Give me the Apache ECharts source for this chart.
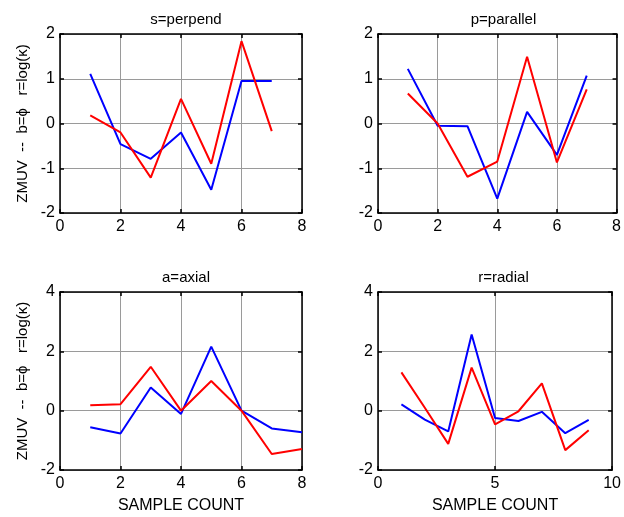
<!DOCTYPE html>
<html>
<head>
<meta charset="utf-8">
<title>ZMUV</title>
<script src="https://cdn.jsdelivr.net/npm/echarts@6/dist/echarts.min.js"></script>
<style>
  html, body { margin: 0; padding: 0; background: #fff; }
  #chart { width: 624px; height: 517px; }
</style>
</head>
<body>
<div id="chart"></div>
<script>
// panel titles
var titles = ['s=perpend', 'p=parallel', 'a=axial', 'r=radial'];

// x values (sample count) for each panel
var xsPerp = [1, 2, 3, 4, 5, 6, 7];
var xsPara = [1, 2, 3, 4, 5, 6, 7];
var xsAxial = [1, 2, 3, 4, 5, 6, 7, 8];
var xsRadial = [1, 2, 3, 4, 5, 6, 7, 8, 9];

// blue = b, red = r
var perpBlue = [1.11, -0.46, -0.79, -0.2, -1.48, 0.95, 0.95];
var perpRed = [0.18, -0.2, -1.21, 0.55, -0.9, 1.84, -0.17];
var paraBlue = [1.22, -0.05, -0.06, -1.68, 0.26, -0.7, 1.07];
var paraRed = [0.67, 0.0, -1.19, -0.85, 1.49, -0.87, 0.76];
var axialBlue = [-0.56, -0.77, 0.78, -0.11, 2.16, 0.0, -0.6, -0.73];
var axialRed = [0.18, 0.22, 1.48, 0.0, 1.0, 0.0, -1.46, -1.29];
var radialBlue = [0.21, -0.3, -0.7, 2.57, -0.25, -0.35, -0.04, -0.76, -0.31];
var radialRed = [1.29, 0.1, -1.12, 1.45, -0.46, -0.02, 0.92, -1.33, -0.66];

// axis ranges
var xMax = [8, 8, 8, 10];
var xStep = [2, 2, 2, 5];
var yMin = [-2, -2, -2, -2];
var yMax = [2, 2, 4, 4];
var yStep = [1, 1, 2, 2];

var yName = 'ZMUV  --  b=\u03d5   r=log(\u03ba)';
var xName = 'SAMPLE COUNT';

var grids = [
  { left: 60, top: 34, width: 242, height: 179 },
  { left: 378, top: 34, width: 241, height: 179 },
  { left: 60, top: 292, width: 242, height: 178 },
  { left: 378, top: 292, width: 241, height: 178 }
];

function pairs(xs, ys) {
  return xs.map(function (x, i) { return [x, ys[i]]; });
}

var font = 'Liberation Sans, Arial, sans-serif';
var xAxes = [], yAxes = [], series = [];
var frame = { show: true, onZero: false, lineStyle: { color: '#000', width: 1.5 } };
var ticks = { inside: true, length: 4, lineStyle: { color: '#000', width: 1.5 } };

grids.forEach(function (g, i) {
  var split = { show: true, lineStyle: { color: '#9a9a9a', width: 1 } };
  xAxes.push({
    type: 'value', gridIndex: i, min: 0, max: xMax[i], interval: xStep[i],
    axisLine: frame, axisTick: ticks,
    axisLabel: { color: '#000', fontSize: 16, fontFamily: font, margin: 6 },
    splitLine: split,
    name: i >= 2 ? xName : '', nameLocation: 'middle', nameGap: 28,
    nameTextStyle: { color: '#000', fontSize: 16, fontFamily: font }
  });
  xAxes.push({
    type: 'value', gridIndex: i, position: 'top', min: 0, max: xMax[i], interval: xStep[i],
    axisLine: frame, axisTick: ticks,
    axisLabel: { show: false }, splitLine: { show: false }
  });
  yAxes.push({
    type: 'value', gridIndex: i, min: yMin[i], max: yMax[i], interval: yStep[i],
    axisLine: frame, axisTick: ticks,
    axisLabel: { color: '#000', fontSize: 16, fontFamily: font, margin: 5 },
    splitLine: split,
    name: i % 2 === 0 ? yName : '', nameLocation: 'middle', nameRotate: 90, nameGap: 30,
    nameTextStyle: { color: '#000', fontSize: 15, fontFamily: font }
  });
  yAxes.push({
    type: 'value', gridIndex: i, position: 'right', min: yMin[i], max: yMax[i], interval: yStep[i],
    axisLine: frame, axisTick: ticks,
    axisLabel: { show: false }, splitLine: { show: false }
  });
});

var panels = [
  [xsPerp, perpBlue, perpRed],
  [xsPara, paraBlue, paraRed],
  [xsAxial, axialBlue, axialRed],
  [xsRadial, radialBlue, radialRed]
];

panels.forEach(function (p, i) {
  series.push({
    type: 'line', xAxisIndex: i * 2, yAxisIndex: i * 2, data: pairs(p[0], p[1]),
    showSymbol: false, lineStyle: { color: '#0000ff', width: 2 }, itemStyle: { color: '#0000ff' }
  });
  series.push({
    type: 'line', xAxisIndex: i * 2, yAxisIndex: i * 2, data: pairs(p[0], p[2]),
    showSymbol: false, lineStyle: { color: '#ff0000', width: 2 }, itemStyle: { color: '#ff0000' }
  });
});

var titleOpts = titles.map(function (t, i) {
  var g = grids[i];
  return {
    text: t, left: g.left + g.width / 2, top: g.top - 27, textAlign: 'center',
    textStyle: { color: '#000', fontSize: 15, fontWeight: 'normal', fontFamily: font }
  };
});

var chart = echarts.init(document.getElementById('chart'));
chart.setOption({
  backgroundColor: '#fff',
  animation: false,
  title: titleOpts,
  grid: grids,
  xAxis: xAxes,
  yAxis: yAxes,
  series: series
});
</script>
</body>
</html>
